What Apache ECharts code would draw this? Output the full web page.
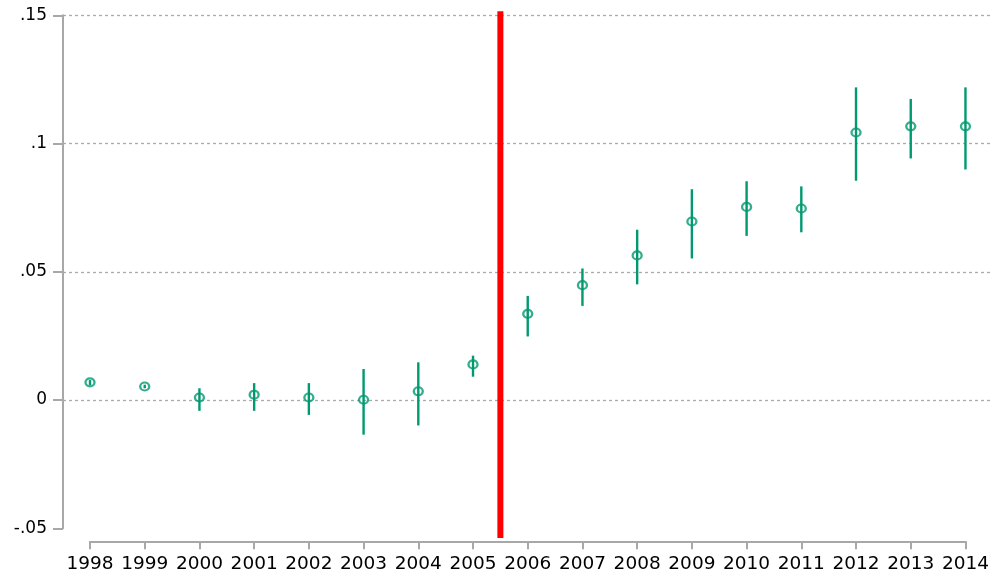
<!DOCTYPE html>
<html><head><meta charset="utf-8">
<script src="https://cdn.jsdelivr.net/npm/echarts@6/dist/echarts.min.js"></script>
<style>html,body{margin:0;padding:0;background:#fff}#c{width:992px;height:576px}</style>
</head><body><div id="c"></div>
<script>
const years = [1998,1999,2000,2001,2002,2003,2004,2005,2006,2007,2008,2009,2010,2011,2012,2013,2014];
const estimates = [0.0069,0.0053,0.0010,0.0021,0.0010,0.0001,0.0034,0.0139,0.0336,0.0448,0.0564,0.0696,0.0753,0.0747,0.1043,0.1067,0.1067];
const ciLower = [0.0058,0.0046,-0.0042,-0.0042,-0.0058,-0.0135,-0.0099,0.0091,0.0248,0.0367,0.0451,0.0552,0.0640,0.0654,0.0855,0.0942,0.0899];
const ciUpper = [0.0078,0.0060,0.0046,0.0066,0.0066,0.0121,0.0147,0.0173,0.0406,0.0513,0.0664,0.0822,0.0853,0.0833,0.1219,0.1174,0.1219];
const yTickLabels = {'-0.05':'-.05','0':'0','0.05':'.05','0.1':'.1','0.15':'.15'};
const treatmentYear = 2005.5;
const treatmentSpan = [-0.0538, 0.1516];

const green = '#009970';
const axisGray = '#a8a8a8';
const chart = echarts.init(document.getElementById('c'), null, {renderer:'canvas'});
chart.setOption({
  animation: false,
  backgroundColor: '#fff',
  grid: [
    {left: 63, right: 2, top: 15.3, bottom: 47.7},
    {left: 90, right: 26, top: 15.3, bottom: 47.7}
  ],
  xAxis: [
    {gridIndex: 0, type: 'value', min: 0, max: 1, show: false},
    {gridIndex: 1, type: 'value', min: 1998, max: 2014, interval: 1, offset: 13,
     axisLine: {onZero: false, lineStyle: {color: axisGray, width: 2}},
     axisTick: {length: 8, lineStyle: {color: axisGray, width: 2}},
     axisLabel: {margin: 13, color: '#000', fontFamily: 'DejaVu Sans', fontSize: 18.5, formatter: v => String(v)},
     splitLine: {show: false}}
  ],
  yAxis: [
    {gridIndex: 0, type: 'value', min: -0.05, max: 0.15, interval: 0.05,
     axisLine: {show: true, onZero: false, lineStyle: {color: axisGray, width: 2}},
     axisTick: {show: true, length: 10, lineStyle: {color: axisGray, width: 2}},
     axisLabel: {margin: 16, color: '#000', fontFamily: 'DejaVu Sans', fontSize: 17,
       formatter: v => yTickLabels[String(+v.toFixed(2))] ?? String(v)},
     splitLine: {show: true, showMinLine: false, lineStyle: {color: '#aaaaaa', width: 1.3, type: [3, 3]}}},
    {gridIndex: 1, type: 'value', min: -0.05, max: 0.15, show: false}
  ],
  series: [
    {type: 'custom', xAxisIndex: 1, yAxisIndex: 1, clip: false, z: 3,
     data: [[treatmentYear, treatmentSpan[0], treatmentSpan[1]]],
     encode: {x: 0, y: [1, 2]},
     renderItem: (params, api) => {
       const a = api.coord([api.value(0), api.value(1)]);
       const b = api.coord([api.value(0), api.value(2)]);
       return {type: 'line', shape: {x1: a[0], y1: a[1], x2: b[0], y2: b[1]}, style: {stroke: '#ff0000', lineWidth: 6}};
     }},
    {type: 'custom', xAxisIndex: 1, yAxisIndex: 1, clip: false, z: 4,
     data: years.map((y, i) => [y, ciLower[i], ciUpper[i]]),
     encode: {x: 0, y: [1, 2]},
     renderItem: (params, api) => {
       const a = api.coord([api.value(0), api.value(1)]);
       const b = api.coord([api.value(0), api.value(2)]);
       return {type: 'line', shape: {x1: a[0], y1: a[1], x2: b[0], y2: b[1]}, style: {stroke: green, lineWidth: 2.4}};
     }},
    {type: 'scatter', xAxisIndex: 1, yAxisIndex: 1, z: 5,
     data: years.map((y, i) => [y, estimates[i]]),
     symbol: 'circle', symbolSize: [9, 8],
     itemStyle: {color: 'rgba(255,255,255,0)', borderColor: green, borderWidth: 2.2}}
  ]
});
</script></body></html>
